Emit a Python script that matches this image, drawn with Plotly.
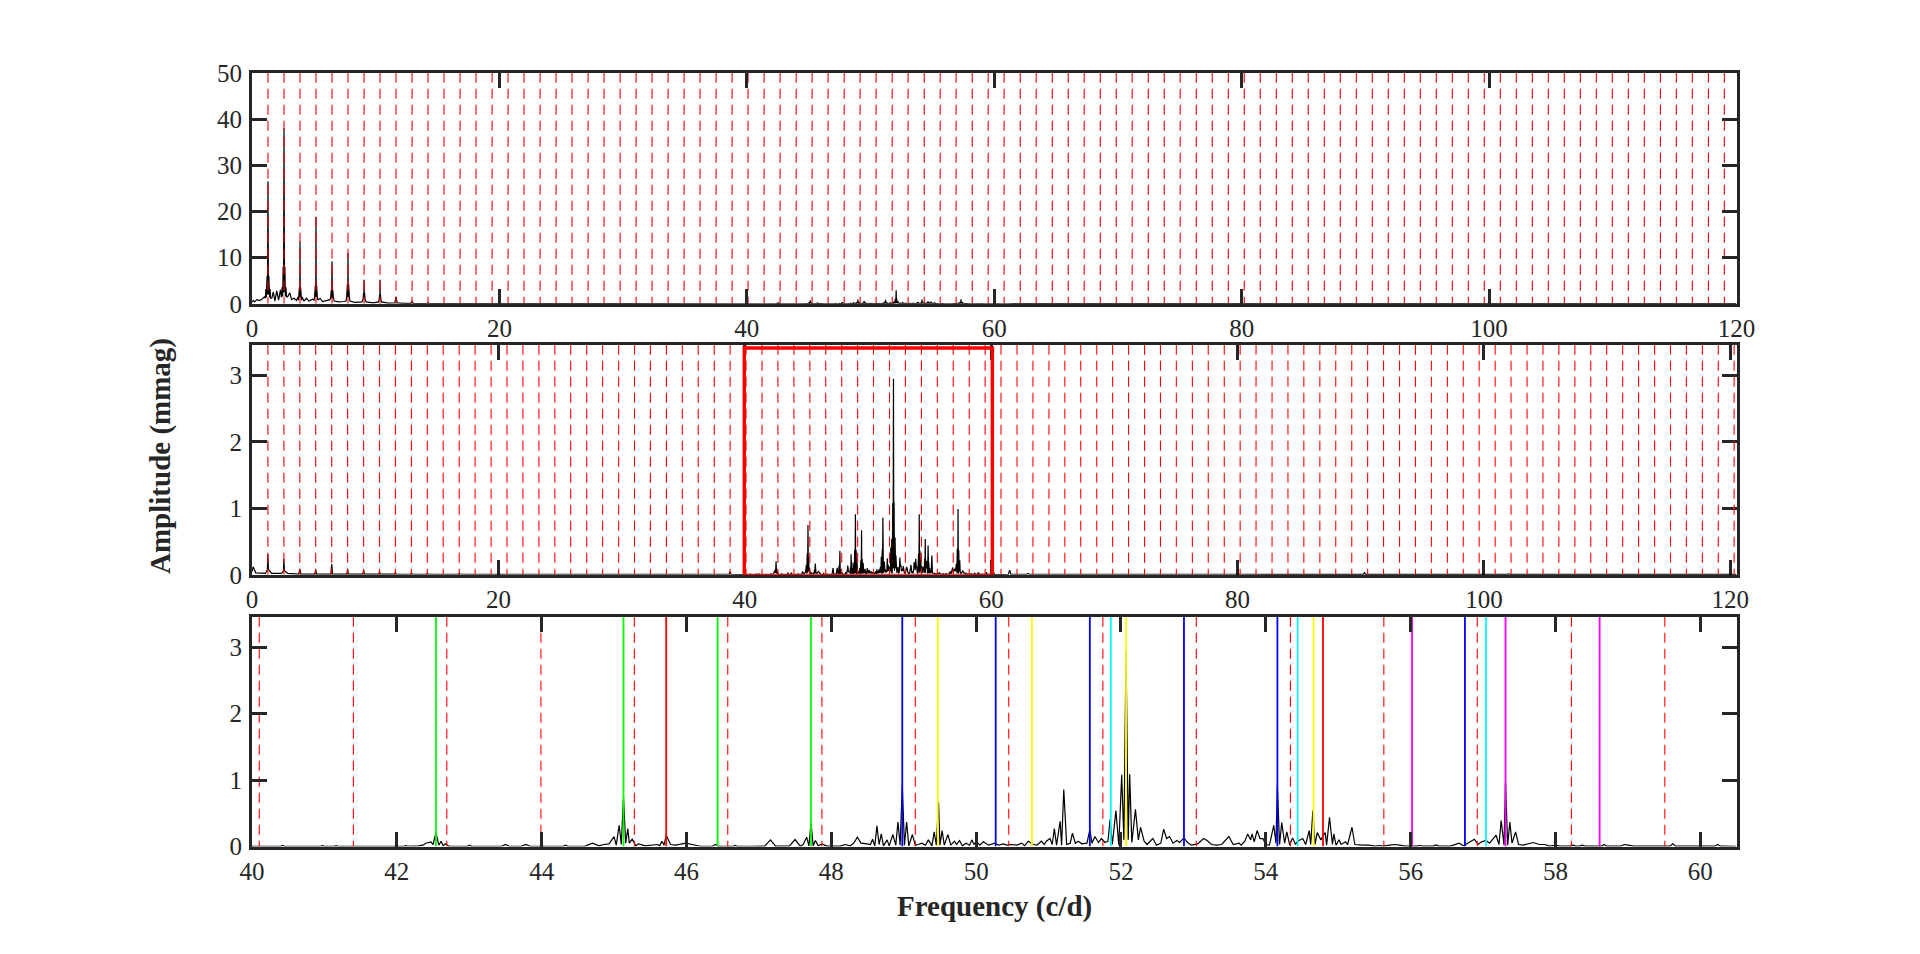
import plotly.graph_objects as go

# orbital harmonics, dashed red lines
harmonics = [
    1.29, 2.59, 3.88, 5.17, 6.47, 7.76, 9.06, 10.35, 11.64, 12.94, 14.23, 15.52, 16.82, 18.11, 19.41, 20.70,
    21.99, 23.29, 24.58, 25.87, 27.17, 28.46, 29.76, 31.05, 32.34, 33.64, 34.93, 36.22, 37.52, 38.81, 40.10,
    41.40, 42.69, 43.99, 45.28, 46.57, 47.87, 49.16, 50.45, 51.75, 53.04, 54.34, 55.63, 56.92, 58.22, 59.51,
    60.80, 62.10, 63.39, 64.69, 65.98, 67.27, 68.57, 69.86, 71.15, 72.45, 73.74, 75.03, 76.33, 77.62, 78.92,
    80.21, 81.50, 82.80, 84.09, 85.38, 86.68, 87.97, 89.27, 90.56, 91.85, 93.15, 94.44, 95.73, 97.03, 98.32,
    99.61, 100.91, 102.20, 103.50, 104.79, 106.08, 107.38, 108.67, 109.96, 111.26, 112.55, 113.85, 115.14,
    116.43, 117.73, 119.02, 120.31,
]

# identified frequencies, solid lines in the bottom panel
green_freqs = [42.54, 45.13, 46.43, 47.72]
red_freqs = [45.72, 54.79]
blue_freqs = [48.98, 50.27, 51.57, 52.87, 54.16, 56.75]
yellow_freqs = [49.47, 50.77, 52.07, 54.66]
cyan_freqs = [51.86, 54.44, 57.04]
magenta_freqs = [56.02, 57.31, 58.61]

# (frequency, amplitude)
band_40_47 = [
    (40.0, 0.004), (40.40, 0.004), (40.42, 0.015), (40.45, 0.004), (40.95, 0.004), (40.97, 0.012), (41.0, 0.004),
    (41.14, 0.004), (41.16, 0.012), (41.19, 0.004), (42.10, 0.004), (42.12, 0.012), (42.15, 0.004), (42.3, 0.01),
    (42.36, 0.02), (42.40, 0.05), (42.47, 0.07), (42.50, 0.03), (42.54, 0.205), (42.58, 0.02), (42.61, 0.08),
    (42.64, 0.01), (42.67, 0.04), (42.72, 0.004), (42.98, 0.004), (43.0, 0.02), (43.03, 0.004), (43.45, 0.004),
    (43.50, 0.03), (43.55, 0.004), (43.72, 0.004), (43.78, 0.03), (43.84, 0.004), (44.30, 0.004), (44.33, 0.02),
    (44.36, 0.004), (44.6, 0.006), (44.70, 0.05), (44.79, 0.01), (44.86, 0.03), (44.93, 0.04), (45.0, 0.15),
    (45.03, 0.02), (45.07, 0.32), (45.10, 0.03), (45.13, 0.75), (45.16, 0.05), (45.19, 0.27), (45.21, 0.05),
    (45.25, 0.11), (45.3, 0.01), (45.34, 0.04), (45.43, 0.01), (45.60, 0.03), (45.63, 0.01), (45.66, 0.08),
    (45.69, 0.02), (45.72, 0.17), (45.78, 0.03), (45.85, 0.02), (45.94, 0.04), (45.99, 0.05), (46.08, 0.03),
    (46.19, 0.004), (46.36, 0.004), (46.40, 0.03), (46.44, 0.004), (46.65, 0.004), (46.67, 0.015), (46.7, 0.004),
    (46.9, 0.004),
]
band_47_51 = [
    (47.08, 0.005), (47.16, 0.10), (47.23, 0.005), (47.42, 0.005), (47.50, 0.105), (47.57, 0.005), (47.61, 0.03),
    (47.66, 0.14), (47.69, 0.01), (47.72, 0.36), (47.75, 0.01), (47.78, 0.09), (47.82, 0.01), (47.87, 0.04),
    (47.94, 0.005), (48.12, 0.005), (48.19, 0.03), (48.26, 0.01), (48.31, 0.05), (48.36, 0.14), (48.41, 0.05),
    (48.49, 0.04), (48.54, 0.03), (48.57, 0.11), (48.60, 0.01), (48.63, 0.31), (48.66, 0.03), (48.69, 0.19),
    (48.72, 0.01), (48.77, 0.10), (48.80, 0.01), (48.85, 0.18), (48.89, 0.02), (48.92, 0.37), (48.95, 0.02),
    (48.98, 0.91), (49.01, 0.02), (49.04, 0.37), (49.07, 0.01), (49.12, 0.18), (49.16, 0.02), (49.20, 0.03),
    (49.25, 0.05), (49.30, 0.02), (49.34, 0.10), (49.39, 0.01), (49.42, 0.22), (49.45, 0.02), (49.48, 0.67),
    (49.50, 0.02), (49.53, 0.24), (49.56, 0.02), (49.61, 0.18), (49.65, 0.02), (49.70, 0.08), (49.73, 0.03),
    (49.77, 0.09), (49.81, 0.01), (49.86, 0.05), (49.91, 0.02), (49.94, 0.10), (49.97, 0.03), (50.0, 0.08),
    (50.05, 0.02), (50.10, 0.07), (50.17, 0.02), (50.26, 0.05), (50.31, 0.02), (50.38, 0.04), (50.42, 0.02),
    (50.48, 0.03), (50.56, 0.02), (50.63, 0.05), (50.67, 0.01), (50.72, 0.08), (50.79, 0.03), (50.84, 0.02),
    (50.90, 0.08), (50.94, 0.03),
]
band_51_54 = [
    (50.97, 0.08), (51.02, 0.12), (51.05, 0.03), (51.08, 0.27), (51.11, 0.02), (51.16, 0.38), (51.18, 0.02),
    (51.21, 0.86), (51.25, 0.03), (51.30, 0.05), (51.33, 0.2), (51.37, 0.05), (51.41, 0.08), (51.46, 0.04),
    (51.53, 0.05), (51.57, 0.25), (51.6, 0.05), (51.64, 0.15), (51.69, 0.06), (51.73, 0.12), (51.78, 0.06),
    (51.82, 0.08), (51.85, 0.41), (51.88, 0.03), (51.93, 0.54), (51.97, 0.02), (52.01, 1.08), (52.04, 0.10),
    (52.07, 2.95), (52.10, 0.10), (52.12, 1.09), (52.15, 0.06), (52.20, 0.56), (52.24, 0.10), (52.27, 0.29),
    (52.32, 0.08), (52.36, 0.03), (52.44, 0.12), (52.49, 0.02), (52.55, 0.05), (52.59, 0.26), (52.63, 0.12),
    (52.67, 0.15), (52.72, 0.05), (52.77, 0.09), (52.81, 0.06), (52.87, 0.13), (52.92, 0.06), (52.97, 0.02),
    (53.06, 0.04), (53.14, 0.12), (53.19, 0.09), (53.25, 0.03), (53.32, 0.02), (53.39, 0.03), (53.49, 0.15),
    (53.55, 0.03), (53.63, 0.05),
]
band_54_61 = [
    (53.66, 0.02), (53.71, 0.08), (53.75, 0.19), (53.79, 0.10), (53.81, 0.19), (53.84, 0.07), (53.88, 0.24),
    (53.92, 0.12), (53.96, 0.12), (54.0, 0.03), (54.05, 0.02), (54.11, 0.32), (54.14, 0.05), (54.16, 0.91),
    (54.19, 0.03), (54.22, 0.36), (54.26, 0.05), (54.29, 0.22), (54.33, 0.02), (54.37, 0.13), (54.41, 0.03),
    (54.44, 0.08), (54.51, 0.12), (54.55, 0.03), (54.60, 0.24), (54.62, 0.03), (54.65, 0.54), (54.68, 0.03),
    (54.71, 0.21), (54.76, 0.10), (54.82, 0.21), (54.84, 0.02), (54.88, 0.44), (54.92, 0.03), (54.94, 0.19),
    (54.97, 0.02), (55.01, 0.10), (55.04, 0.03), (55.10, 0.07), (55.13, 0.03), (55.19, 0.29), (55.23, 0.03),
    (55.34, 0.02), (55.43, 0.02), (55.50, 0.006), (55.57, 0.015), (55.62, 0.006), (55.71, 0.02), (55.78, 0.03),
    (55.85, 0.02), (55.92, 0.005), (56.08, 0.005), (56.12, 0.015), (56.16, 0.005), (56.31, 0.005), (56.35, 0.025),
    (56.39, 0.005), (56.55, 0.005), (56.67, 0.05), (56.73, 0.01), (56.88, 0.11), (56.93, 0.03), (56.98, 0.07),
    (57.04, 0.09), (57.09, 0.05), (57.18, 0.17), (57.22, 0.03), (57.25, 0.39), (57.29, 0.02), (57.31, 0.99),
    (57.34, 0.02), (57.37, 0.37), (57.40, 0.05), (57.45, 0.22), (57.49, 0.03), (57.55, 0.02), (57.69, 0.06),
    (57.78, 0.03), (57.85, 0.03), (57.92, 0.006), (58.0, 0.02), (58.06, 0.005), (58.20, 0.005), (58.24, 0.02),
    (58.28, 0.005), (58.33, 0.005), (58.37, 0.02), (58.41, 0.005), (58.64, 0.005), (58.67, 0.03), (58.71, 0.005),
    (58.90, 0.005), (58.95, 0.03), (59.0, 0.02), (59.08, 0.005), (59.58, 0.005), (59.62, 0.04), (59.66, 0.005),
    (60.20, 0.005), (60.24, 0.03), (60.28, 0.005), (60.49, 0.004),
]

# what is left at low and high frequency in the residual (middle panel)
resid_low = [
    (0.0, 0.05), (0.1, 0.12), (0.3, 0.03), (1.1, 0.02), (1.25, 0.08), (1.29, 0.31), (1.33, 0.08), (1.6, 0.02),
    (2.4, 0.02), (2.55, 0.06), (2.59, 0.24), (2.63, 0.06), (2.9, 0.02), (3.8, 0.01), (3.88, 0.09), (3.96, 0.01),
    (5.1, 0.01), (5.17, 0.08), (5.24, 0.01), (6.4, 0.01), (6.47, 0.16), (6.54, 0.01), (7.7, 0.01), (7.76, 0.09),
    (7.82, 0.01), (9.0, 0.01), (9.06, 0.07), (9.12, 0.01), (10.3, 0.01), (10.35, 0.05), (10.4, 0.01), (11.6, 0.01),
    (11.64, 0.04), (11.7, 0.01), (12.88, 0.008), (12.94, 0.03), (13.0, 0.008), (14.17, 0.008), (14.23, 0.025),
    (14.3, 0.008), (16.76, 0.008), (16.82, 0.02), (16.88, 0.008), (20.0, 0.008), (30.0, 0.008), (38.74, 0.008),
    (38.81, 0.05), (38.88, 0.008),
]
resid_high = [
    (61.4, 0.008), (61.5, 0.07), (61.6, 0.008), (62.9, 0.008), (63.0, 0.02), (63.1, 0.008), (80.0, 0.008), (90.2, 0.005),
    (90.3, 0.03), (90.4, 0.005), (101.9, 0.005), (102.0, 0.015), (102.1, 0.005), (120.5, 0.005),
]

# observed spectrum below 14 c/d (top panel)
obs_low = [
    (0.0, 0.4), (0.1, 0.7), (0.2, 0.4), (0.4, 0.9), (0.6, 0.7), (0.8, 1.0), (1.0, 1.5), (1.08, 1.2), (1.12, 3.2),
    (1.16, 1.4), (1.22, 6.0), (1.25, 2.0), (1.29, 26.5), (1.33, 2.0), (1.36, 6.0), (1.42, 1.4), (1.46, 3.2), (1.5, 1.2),
    (1.6, 1.2), (1.72, 2.6), (1.85, 0.6), (2.0, 2.8), (2.15, 0.8), (2.3, 3.0), (2.38, 1.4), (2.44, 3.6), (2.48, 1.6),
    (2.52, 8.0), (2.55, 2.5), (2.59, 38.0), (2.63, 2.5), (2.66, 8.0), (2.7, 1.6), (2.74, 3.6), (2.8, 1.4), (2.9, 1.6),
    (3.05, 2.4), (3.2, 0.9), (3.4, 1.2), (3.6, 0.7), (3.72, 1.5), (3.76, 0.8), (3.83, 3.5), (3.86, 1.4), (3.88, 13.5),
    (3.9, 1.4), (3.93, 3.5), (4.0, 0.8), (4.04, 1.5), (4.2, 0.6), (4.4, 1.2), (4.6, 0.6), (4.9, 1.0), (5.02, 0.8),
    (5.06, 1.6), (5.12, 4.0), (5.15, 1.5), (5.17, 18.8), (5.19, 1.5), (5.22, 4.0), (5.28, 1.6), (5.32, 0.8), (5.5, 1.2),
    (5.7, 0.5), (6.0, 0.7), (6.3, 0.9), (6.36, 1.4), (6.41, 3.0), (6.44, 1.2), (6.47, 9.2), (6.5, 1.2), (6.53, 3.0),
    (6.58, 1.4), (6.64, 0.6), (7.0, 0.4), (7.4, 0.5), (7.6, 0.6), (7.65, 1.5), (7.71, 4.2), (7.74, 1.5), (7.76, 11.0),
    (7.78, 1.5), (7.81, 4.2), (7.87, 1.5), (7.92, 0.6), (8.3, 0.3), (8.9, 0.4), (8.98, 1.0), (9.02, 2.4), (9.04, 1.2),
    (9.06, 5.2), (9.08, 1.2), (9.1, 2.4), (9.14, 1.0), (9.22, 0.4), (9.8, 0.2), (10.23, 0.4), (10.28, 1.0), (10.32, 2.0),
    (10.34, 1.0), (10.35, 5.2), (10.37, 1.0), (10.38, 2.0), (10.42, 1.0), (10.47, 0.4), (11.0, 0.15), (11.55, 0.2),
    (11.64, 1.5), (11.73, 0.2), (12.3, 0.1), (12.85, 0.1), (12.94, 0.6), (13.03, 0.1), (14.15, 0.05), (14.23, 0.3),
    (14.31, 0.05), (16.0, 0.03), (30.0, 0.02),
]
obs_high = [
    (61.4, 0.02), (61.5, 0.05), (61.6, 0.02), (90.0, 0.02), (120.0, 0.02),
]

box_x = [39.96, 60.1, 60.1, 39.96, 39.96]
box_y = [-0.012, -0.012, 3.41, 3.41, -0.012]

top_ymax = 50
amp_ymax = 3.46

top_yticks = [0, 10, 20, 30, 40, 50]
amp_yticks = [0, 1, 2, 3]
wide_xticks = [0, 20, 40, 60, 80, 100, 120]
zoom_xticks = [40, 42, 44, 46, 48, 50, 52, 54, 56, 58, 60]

WIDTH = 1920
HEIGHT = 954
LEFT = 252
RIGHT = 1736.5
INK = '#262626'
FONT = 'Liberation Serif'


def unpack(*bands):
    pts = [p for band in bands for p in band]
    return [p[0] for p in pts], [p[1] for p in pts]


def vlines(freqs, ymax):
    xs, ys = [], []
    for f in freqs:
        xs += [f, f, None]
        ys += [ymax, 0, None]
    return xs, ys


def ydom(top, bottom):
    return [1 - bottom / HEIGHT, 1 - top / HEIGHT]


fig = go.Figure()

top_x, top_y = unpack(obs_low, band_40_47, band_47_51, band_51_54, band_54_61, obs_high)
mid_x, mid_y = unpack(resid_low, band_40_47, band_47_51, band_51_54, band_54_61, resid_high)
low_x, low_y = unpack(band_40_47, band_47_51, band_51_54, band_54_61)

panels = [
    ('x', 'y', top_x, top_y, top_ymax),
    ('x2', 'y2', mid_x, mid_y, amp_ymax),
    ('x3', 'y3', low_x, low_y, amp_ymax),
]
for xa, ya, fx, fy, ymax in panels:
    fig.add_trace(go.Scatter(
        x=fx, y=fy, xaxis=xa, yaxis=ya, mode='lines',
        line=dict(color='#000000', width=1.2, simplify=False),
    ))
    hx, hy = vlines(harmonics, ymax)
    fig.add_trace(go.Scatter(
        x=hx, y=hy, xaxis=xa, yaxis=ya, mode='lines',
        line=dict(color='#ff0000', width=1.1, dash='10px,6px'),
    ))

fig.add_trace(go.Scatter(
    x=box_x, y=box_y, xaxis='x2', yaxis='y2', mode='lines', cliponaxis=False,
    line=dict(color='#ff0000', width=3.5),
))

solid_groups = [
    (green_freqs, '#00ff00'),
    (red_freqs, '#ff0000'),
    (blue_freqs, '#0000ff'),
    (yellow_freqs, '#ffff00'),
    (cyan_freqs, '#00ffff'),
    (magenta_freqs, '#ff00ff'),
]
for freqs, color in solid_groups:
    sx, sy = vlines(freqs, amp_ymax)
    fig.add_trace(go.Scatter(
        x=sx, y=sy, xaxis='x3', yaxis='y3', mode='lines',
        line=dict(color=color, width=1.8),
    ))

axis_style = dict(
    showgrid=False, zeroline=False, showline=True, mirror='ticks', automargin=False,
    linecolor=INK, linewidth=3,
    ticks='inside', ticklen=15, tickwidth=3, tickcolor=INK,
    tickfont=dict(family=FONT, size=25, color=INK),
)
xdom = [LEFT / WIDTH, RIGHT / WIDTH]

fig.update_layout(
    width=WIDTH, height=HEIGHT,
    margin=dict(l=0, r=0, t=0, b=0, autoexpand=False),
    paper_bgcolor='white', plot_bgcolor='white',
    showlegend=False,
    xaxis=dict(domain=xdom, range=[0, 120], tickvals=wide_xticks, anchor='y', **axis_style),
    yaxis=dict(domain=ydom(72.8, 303.8), range=[0, top_ymax], tickvals=top_yticks, anchor='x',
               ticklabelstandoff=2, **axis_style),
    xaxis2=dict(domain=xdom, range=[0, 120.5], tickvals=wide_xticks, anchor='y2', layer='below traces', **axis_style),
    yaxis2=dict(domain=ydom(344.8, 574.8), range=[0, amp_ymax], tickvals=amp_yticks, anchor='x2',
                ticklabelstandoff=2, layer='below traces', **axis_style),
    xaxis3=dict(domain=xdom, range=[40, 60.5], tickvals=zoom_xticks, anchor='y3', **axis_style),
    yaxis3=dict(domain=ydom(616.8, 846.5), range=[0, amp_ymax], tickvals=amp_yticks, anchor='x3',
                ticklabelstandoff=2, **axis_style),
    annotations=[
        dict(text='<b>Frequency (c/d)</b>', xref='paper', yref='paper', x=994 / WIDTH, y=1 - 906 / HEIGHT,
             showarrow=False, xanchor='center', yanchor='middle',
             font=dict(family=FONT, size=29, color=INK)),
        dict(text='<b>Amplitude (mmag)</b>', xref='paper', yref='paper', x=160 / WIDTH, y=1 - 456 / HEIGHT,
             showarrow=False, xanchor='center', yanchor='middle', textangle=-90,
             font=dict(family=FONT, size=29, color=INK)),
    ],
)

fig.write_html("out.html", config={'displayModeBar': False}, post_script='document.body.style.margin = "0";')
